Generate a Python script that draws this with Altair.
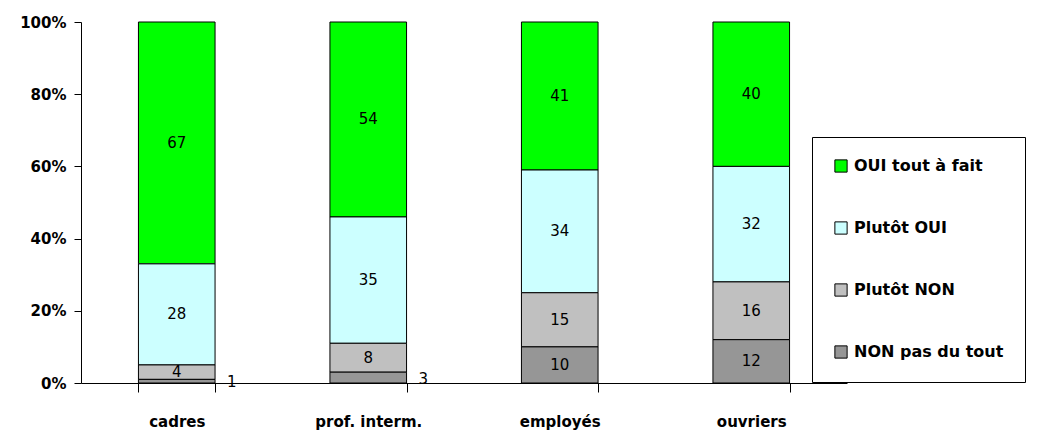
import altair as alt
import pandas as pd

categories = ["cadres", "prof. interm.", "employés", "ouvriers"]
responses = ["OUI tout à fait", "Plutôt OUI", "Plutôt NON", "NON pas du tout"]
oui_tout = [67, 54, 41, 40]
plutot_oui = [28, 35, 34, 32]
plutot_non = [4, 8, 15, 16]
non_pas = [1, 3, 10, 12]
colors = ["#00FF00", "#CCFFFF", "#C0C0C0", "#969696"]

series = [oui_tout, plutot_oui, plutot_non, non_pas]
rows = []
for ri, (resp, vals) in enumerate(zip(responses, series)):
    for cat, v in zip(categories, vals):
        rows.append({"cat": cat, "resp": resp, "value": v, "order": len(responses) - ri})
df = pd.DataFrame(rows)

FONT = "DejaVu Sans"

base = alt.Chart(df).transform_stack(
    stack="value",
    groupby=["cat"],
    as_=["y0", "y1"],
    sort=[alt.SortField("order", order="ascending")],
    offset="normalize",
).transform_calculate(mid="(datum.y0 + datum.y1) / 2")

x_enc = alt.X(
    "cat:N",
    sort=categories,
    title=None,
    scale=alt.Scale(paddingInner=0.6, paddingOuter=0.3),
    axis=alt.Axis(
        labelAngle=0, labelFont=FONT, labelFontWeight="bold", labelFontSize=15,
        labelColor="black", domainColor="black", tickColor="black",
        tickSize=9, labelPadding=22, tickBand="extent",
    ),
)

bars = base.mark_bar(stroke="black", strokeWidth=1).encode(
    x=x_enc,
    y=alt.Y(
        "y0:Q",
        title=None,
        scale=alt.Scale(domain=[0, 1], nice=False),
        axis=alt.Axis(
            values=[0, 0.2, 0.4, 0.6, 0.8, 1.0], format=".0%", grid=False,
            labelFont=FONT, labelFontWeight="bold", labelFontSize=15,
            labelColor="black", domainColor="black", tickColor="black",
            tickSize=7, labelPadding=8,
        ),
    ),
    y2="y1:Q",
    color=alt.Color(
        "resp:N",
        scale=alt.Scale(domain=responses, range=colors),
        title=None,
        legend=alt.Legend(
            orient="none", legendX=731, legendY=115,
            fillColor="white", strokeColor="black", padding=21,
            symbolType="square", symbolSize=150, symbolStrokeColor="black",
            symbolStrokeWidth=1, symbolOpacity=1,
            labelFont=FONT, labelFontWeight="bold", labelFontSize=16,
            labelColor="black", rowPadding=44, labelOffset=5,
        ),
    ),
)

inside = base.transform_filter("datum.value >= 4").mark_text(
    font=FONT, fontSize=15, color="black"
).encode(
    x=alt.X("cat:N", sort=categories),
    y=alt.Y("mid:Q"),
    text="value:Q",
)

outside = base.transform_filter("datum.value < 4").mark_text(
    font=FONT, fontSize=15, color="black", dx=55, dy=1
).encode(
    x=alt.X("cat:N", sort=categories),
    y=alt.Y("mid:Q"),
    text="value:Q",
)

chart = alt.layer(bars, inside, outside).properties(
    width=766, height=361,
    autosize=alt.AutoSizeParams(type="none"),
    padding={"left": 73, "top": 14, "right": 183, "bottom": 48},
).configure_view(stroke=None)

chart.save("out.html", embed_options={"renderer": "svg", "actions": False})
